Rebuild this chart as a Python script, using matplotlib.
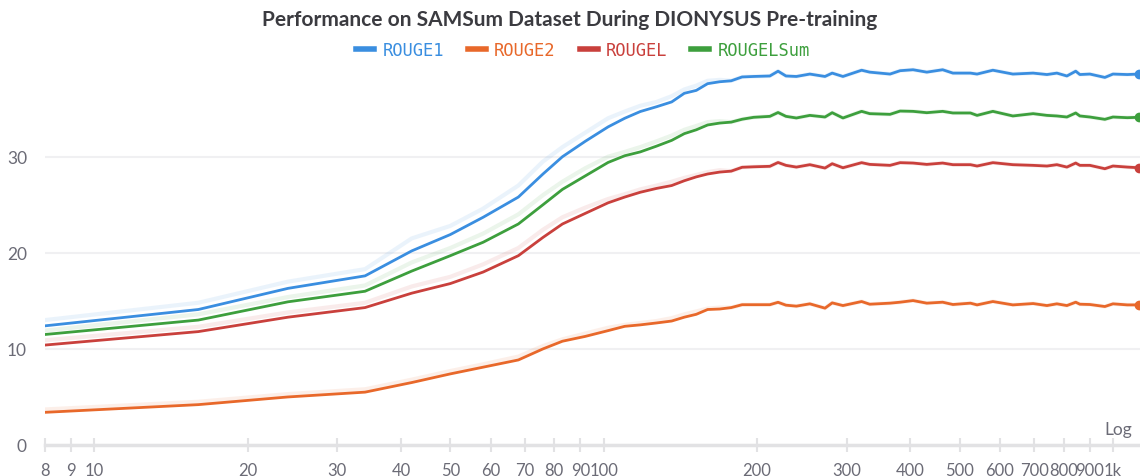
import numpy as np
import matplotlib
matplotlib.use("Agg")
import matplotlib.pyplot as plt
from matplotlib.lines import Line2D

# training steps (log x axis)
steps = [8, 16, 24, 34, 42, 50, 58, 68, 76, 83, 92, 102, 110, 118, 127, 136, 144, 152, 160, 169,
         178, 187, 197, 212, 220, 228, 239, 254, 272, 281, 295, 321, 333, 365, 382, 405, 431, 463,
         485, 525, 541, 581, 636, 697, 742, 776, 812, 845, 861, 901, 964, 1000, 1067, 1125]

rouge1 = [12.4, 14.1, 16.3, 17.6, 20.2, 21.9, 23.7, 25.8, 28.2, 30.0, 31.6, 33.1, 34.0, 34.7, 35.2,
          35.7, 36.6, 36.9, 37.6, 37.8, 37.9, 38.3, 38.35, 38.4, 38.9, 38.4, 38.35, 38.6, 38.35,
          38.7, 38.35, 39.0, 38.8, 38.6, 38.95, 39.05, 38.8, 39.05, 38.7, 38.7, 38.6, 39.0, 38.6,
          38.7, 38.55, 38.7, 38.4, 38.9, 38.55, 38.6, 38.25, 38.6, 38.55, 38.6]
rouge2 = [3.4, 4.2, 5.0, 5.5, 6.5, 7.4, 8.1, 8.85, 10.0, 10.8, 11.3, 11.9, 12.35, 12.5, 12.7, 12.9,
          13.3, 13.6, 14.1, 14.15, 14.3, 14.6, 14.6, 14.6, 14.85, 14.55, 14.45, 14.69, 14.24, 14.79,
          14.51, 14.93, 14.65, 14.76, 14.86, 15.03, 14.76, 14.86, 14.62, 14.76, 14.58, 14.93, 14.58,
          14.72, 14.51, 14.69, 14.51, 14.86, 14.65, 14.62, 14.41, 14.69, 14.58, 14.58]
rougeL = [10.4, 11.8, 13.3, 14.3, 15.8, 16.8, 18.0, 19.7, 21.6, 23.0, 24.1, 25.2, 25.8, 26.3, 26.7,
          27.0, 27.5, 27.9, 28.2, 28.4, 28.5, 28.9, 28.95, 29.0, 29.4, 29.1, 28.92, 29.17, 28.82,
          29.27, 28.85, 29.38, 29.2, 29.1, 29.38, 29.34, 29.2, 29.34, 29.17, 29.17, 29.03, 29.38,
          29.17, 29.1, 29.03, 29.17, 28.92, 29.34, 29.1, 29.1, 28.75, 29.03, 28.92, 28.85]
rougeLsum = [11.5, 13.0, 14.9, 16.0, 18.1, 19.7, 21.1, 23.0, 25.0, 26.6, 28.0, 29.4, 30.1, 30.5,
             31.1, 31.7, 32.4, 32.8, 33.3, 33.5, 33.6, 33.9, 34.1, 34.2, 34.6, 34.2, 34.03, 34.3,
             34.13, 34.58, 34.03, 34.72, 34.48, 34.41, 34.75, 34.72, 34.58, 34.72, 34.55, 34.55,
             34.3, 34.72, 34.24, 34.48, 34.3, 34.24, 34.13, 34.55, 34.24, 34.13, 33.89, 34.13,
             34.06, 34.1]

# unsmoothed values for the first 20 steps (faint lines)
rouge1_raw = [13.0, 14.8, 17.0, 18.3, 21.5, 22.8, 24.6, 27.0, 29.5, 31.0, 32.5, 34.0, 34.7, 35.3,
              35.7, 36.3, 37.0, 37.4, 37.9, 38.0]
rouge2_raw = [3.7, 4.5, 5.3, 5.8, 6.8, 7.7, 8.4, 9.2, 10.3, 11.0, 11.6, 12.2, 12.5, 12.7, 12.9,
              13.2, 13.6, 13.9, 14.2, 14.3]
rougeL_raw = [10.9, 12.3, 13.8, 14.8, 16.5, 17.5, 18.8, 20.5, 22.4, 23.7, 24.7, 25.6, 26.1, 26.6,
              27.0, 27.4, 27.8, 28.1, 28.4, 28.6]
rougeLsum_raw = [11.9, 13.6, 15.4, 16.6, 19.0, 20.5, 22.0, 24.0, 26.0, 27.4, 28.8, 30.0, 30.5,
                 31.0, 31.6, 32.2, 32.8, 33.2, 33.6, 33.7]

names = ["ROUGE1", "ROUGE2", "ROUGEL", "ROUGELSum"]
colors = ["#3a8ee0", "#e8682a", "#c9403c", "#3d9f3d"]

xticks = [8, 9, 10, 20, 30, 40, 50, 60, 70, 80, 90, 100, 200, 300, 400, 500, 600, 700, 800, 900, 1000]
xlabels = ["8", "9", "10", "20", "30", "40", "50", "60", "70", "80", "90", "100",
           "200", "300", "400", "500", "600", "700", "800", "900", "1k"]

plt.rcParams["font.family"] = ["Lato", "DejaVu Sans"]

fig = plt.figure(figsize=(11.4, 4.77), dpi=100)
ax = fig.add_axes([45 / 1140, 1 - 446 / 477, 1095 / 1140, 394 / 477])

series = [rouge1, rouge2, rougeL, rougeLsum]
raws = [rouge1_raw, rouge2_raw, rougeL_raw, rougeLsum_raw]
n = len(rouge1_raw)
for vals, raw, c in zip(series, raws, colors):
    faint = np.concatenate([raw, vals[n:]])
    ax.plot(steps, faint, color=c, alpha=0.1, lw=3, solid_joinstyle="round")
for vals, c, name in zip(series, colors, names):
    ax.plot(steps, vals, color=c, lw=2, label=name)
    ax.plot(steps[-1], vals[-1], "o", color=c, ms=6, clip_on=False)

ax.set_xscale("log")
ax.set_xlim(8, 1130)
ax.set_ylim(0, 41)
ax.xaxis.set_major_locator(matplotlib.ticker.FixedLocator(xticks))
ax.xaxis.set_major_formatter(matplotlib.ticker.FixedFormatter(xlabels))
ax.xaxis.set_minor_locator(matplotlib.ticker.NullLocator())
ax.set_yticks([0, 10, 20, 30])

for s in ["top", "right", "left"]:
    ax.spines[s].set_visible(False)
ax.spines["bottom"].set_color("#e2e2e4")
ax.spines["bottom"].set_linewidth(2.5)

ax.tick_params(axis="x", direction="inout", length=10, width=1.5, color="#e2e2e4",
               labelcolor="#6b6b76", labelsize=12, pad=7)
ax.tick_params(axis="y", length=0, labelcolor="#6b6b76", labelsize=12.5, pad=13)
ax.grid(axis="y", color="#f0f0f2", lw=1.5)
ax.set_axisbelow(True)

ax.text(0.993, 0.02, "Log", transform=ax.transAxes, ha="right", va="bottom",
        color="#6b6b76", fontsize=12.5)

fig.suptitle("Performance on SAMSum Dataset During DIONYSUS Pre-training",
             x=0.5, y=0.978, fontsize=15, fontweight="bold", color="#3b3b40")

handles = [Line2D([0], [0], color=c, lw=4) for c in colors]
leg = fig.legend(handles, names, loc="center", bbox_to_anchor=(583 / 1140, 1 - 51 / 477),
                 ncol=4, frameon=False, handlelength=1.05, handletextpad=0.5, columnspacing=1.4,
                 prop={"family": "DejaVu Sans Mono", "size": 12.3})
for t, c in zip(leg.get_texts(), colors):
    t.set_color(c)

fig.savefig("out.png", dpi=100)
